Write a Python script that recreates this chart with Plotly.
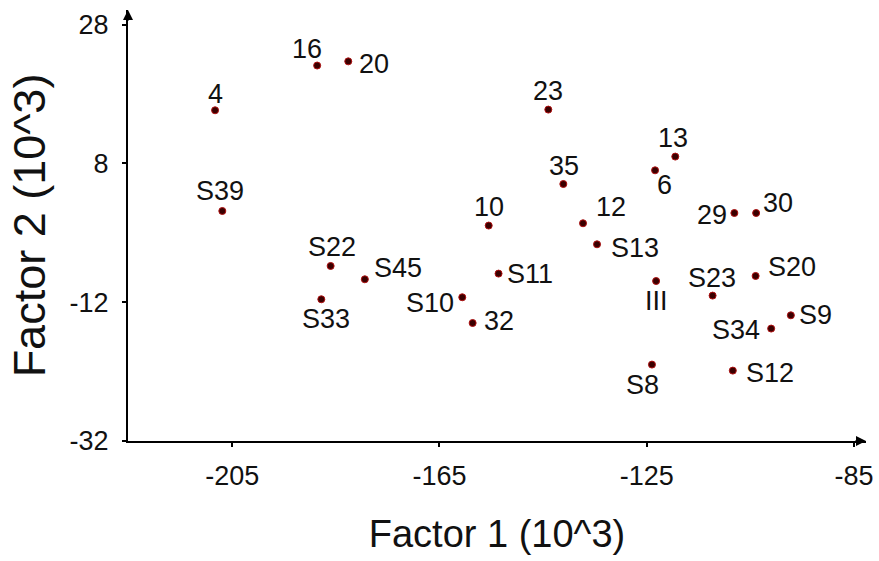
import plotly.graph_objects as go

labels = ["4", "S39", "16", "20", "23", "35", "10", "12", "13", "6", "S13",
          "29", "30", "III", "S23", "S20", "S9", "S34", "S8", "S12", "S22",
          "S45", "S33", "S10", "32", "S11"]
factor1 = [-208.3, -206.9, -188.6, -182.6, -144.0, -141.1, -155.5, -137.3,
           -119.5, -123.4, -134.6, -108.1, -103.9, -123.2, -112.3, -104.0,
           -97.2, -101.0, -124.0, -108.4, -186.0, -179.4, -187.8, -160.6,
           -158.6, -153.6]
factor2 = [15.65, 1.14, 22.1, 22.7, 15.75, 5.03, -0.96, -0.63, 8.98, 7.0,
           -3.66, 0.85, 0.85, -8.95, -11.05, -8.22, -13.89, -15.8, -20.99,
           -21.86, -6.78, -8.7, -11.58, -11.29, -15.0, -7.88]
x_ticks = [-205, -165, -125, -85]
y_ticks = [28, 8, -12, -32]

# label offsets from their dot, in pixels (right, down)
label_dx = [0, -2, -10, 26, 0, 1, 0, 28, -2, 9, 38, -22, 22, 0, -1, 36, 25,
            -35, -9, 37, 1, 33, 5, -32, 26, 31]
label_dy = [-17, -21, -18, 2, -20, -19, -20, -17, -20, 14, 3, 1, -11, 19,
            -19, -10, -1, 0, 19, 1, -20, -12, 19, 5, -3, -1]

FONT = "Liberation Sans, Arial, sans-serif"

fig = go.Figure()
fig.add_trace(go.Scatter(
    x=factor1, y=factor2, mode="markers",
    marker=dict(size=7, color="#3a0000", line=dict(color="#b01010", width=1)),
    cliponaxis=False, showlegend=False, hoverinfo="skip",
))

for lab, xv, yv, dx, dy in zip(labels, factor1, factor2, label_dx, label_dy):
    fig.add_annotation(x=xv, y=yv, xref="x", yref="y", text=lab,
                       showarrow=False, xanchor="center", yanchor="middle",
                       xshift=dx, yshift=-dy - 1,
                       font=dict(family="Liberation Sans, Arial, sans-serif",
                                 size=27, color="#111111"))

fig.update_layout(
    width=879, height=561,
    margin=dict(l=128, r=6, t=10, b=120),
    paper_bgcolor="white", plot_bgcolor="white",
    font=dict(family=FONT, color="#111111"),
    xaxis=dict(
        range=[-225.1, -82.7], tickvals=x_ticks, ticktext=[str(v) for v in x_ticks],
        showgrid=False, zeroline=False, showline=True, linecolor="black", linewidth=2,
        ticks="outside", ticklen=4, tickwidth=2, tickcolor="black",
        tickfont=dict(size=27), ticklabelstandoff=6, ticklabeloverflow="allow",
        title=dict(text="Factor 1 (10^3)", font=dict(size=38), standoff=30),
    ),
    yaxis=dict(
        range=[-32, 30.1], tickvals=y_ticks, ticktext=[str(v) for v in y_ticks],
        showgrid=False, zeroline=False, showline=True, linecolor="black", linewidth=2,
        ticks="outside", ticklen=4, tickwidth=2, tickcolor="black",
        tickfont=dict(size=27), ticklabelstandoff=8, ticklabeloverflow="allow",
        title=dict(text="Factor 2 (10^3)", font=dict(size=45), standoff=10),
    ),
)

# arrowheads at the axis ends
fig.add_annotation(xref="paper", yref="paper", x=1.0, y=0, ax=-12, ay=0,
                   showarrow=True, arrowhead=2, arrowsize=1, arrowwidth=2,
                   arrowcolor="black", text="")
fig.add_annotation(xref="paper", yref="paper", x=0, y=1.0, ax=0, ay=12,
                   showarrow=True, arrowhead=2, arrowsize=1, arrowwidth=2,
                   arrowcolor="black", text="")

fig.write_html("out.html", config={"displayModeBar": False},
               post_script="document.body.style.margin='0px';")
